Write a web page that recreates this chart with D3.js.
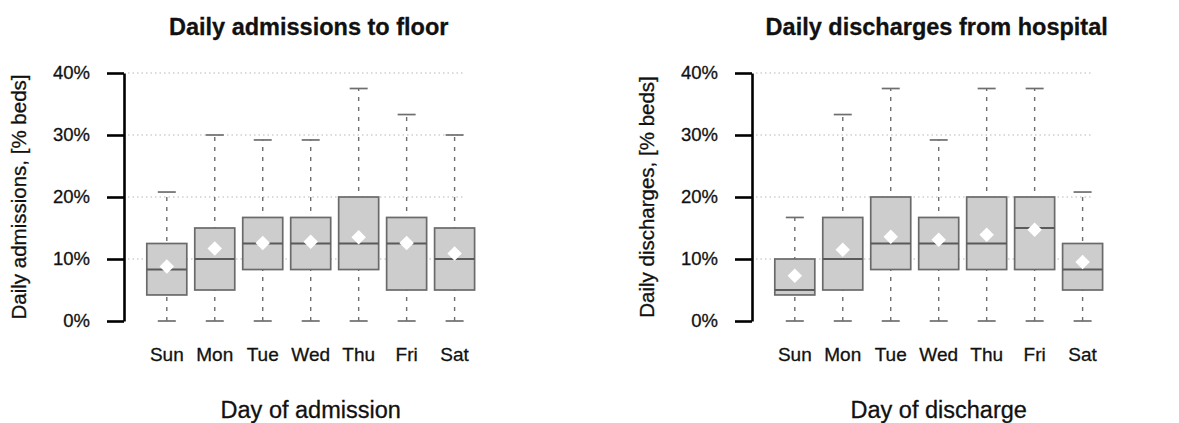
<!DOCTYPE html>
<html>
<head>
<meta charset="utf-8">
<script src="https://cdn.jsdelivr.net/npm/d3@7"></script>
<style>
  body { margin: 0; background: #fff; }
  svg { display: block; font-family: "Liberation Sans", Arial, Helvetica, sans-serif; }
  text { stroke: #111; stroke-width: 0.3px; }
</style>
</head>
<body>
<svg id="chart" width="1179" height="423"></svg>
<script>
// days of the week, shared by both panels
const days = ['Sun', 'Mon', 'Tue', 'Wed', 'Thu', 'Fri', 'Sat'];
const yTicks = [0, 0.1, 0.2, 0.3, 0.4];

// admissions to floor (fraction of beds)
const admMin = [0, 0, 0, 0, 0, 0, 0];
const admQ1 = [0.042, 0.05, 0.083, 0.083, 0.083, 0.05, 0.05];
const admMedian = [0.083, 0.10, 0.125, 0.125, 0.125, 0.125, 0.10];
const admQ3 = [0.125, 0.15, 0.167, 0.167, 0.20, 0.167, 0.15];
const admMax = [0.208, 0.30, 0.292, 0.292, 0.375, 0.333, 0.30];
const admMean = [0.088, 0.117, 0.126, 0.128, 0.135, 0.126, 0.109];

// discharges from hospital (fraction of beds)
const disMin = [0, 0, 0, 0, 0, 0, 0];
const disQ1 = [0.042, 0.05, 0.083, 0.083, 0.083, 0.083, 0.05];
const disMedian = [0.05, 0.10, 0.125, 0.125, 0.125, 0.15, 0.083];
const disQ3 = [0.10, 0.167, 0.20, 0.167, 0.20, 0.20, 0.125];
const disMax = [0.167, 0.333, 0.375, 0.292, 0.375, 0.375, 0.208];
const disMean = [0.073, 0.115, 0.136, 0.131, 0.139, 0.147, 0.095];

const svg = d3.select('#chart');

// shared vertical scale, both panels have the same plot height
const y = d3.scaleLinear().domain([0, 0.4]).range([321, 73]);

function rows(mins, q1s, meds, q3s, maxs, means) {
    return days.map((d, i) => ({
        day: d, min: mins[i], q1: q1s[i], med: meds[i], q3: q3s[i], max: maxs[i], mean: means[i]
    }));
}

function drawPanel(axisX, title, yLabel, xLabel, data) {
    const g = svg.append('g');

    const x = d3.scaleBand()
        .domain(days)
        .range([axisX + 14.5, axisX + 14.5 + 344.4])
        .padding(0.18);
    const cx = d => x(d) + x.bandwidth() / 2;
    const boxW = 40;
    const capW = 18;

    // dotted grid lines
    g.selectAll('.grid')
        .data(yTicks.filter(t => t > 0))
        .enter()
        .append('line')
        .attr('x1', axisX + 4)
        .attr('x2', axisX + 340)
        .attr('y1', d => y(d))
        .attr('y2', d => y(d))
        .attr('stroke', '#b8b8b8')
        .attr('stroke-width', 1.2)
        .attr('stroke-dasharray', '1.5,3');

    const box = g.selectAll('.box')
        .data(data)
        .enter()
        .append('g');

    // whiskers
    box.append('line')
        .attr('x1', d => cx(d.day))
        .attr('x2', d => cx(d.day))
        .attr('y1', d => y(d.min))
        .attr('y2', d => y(d.max))
        .attr('stroke', '#6e6e6e')
        .attr('stroke-width', 1.4)
        .attr('stroke-dasharray', '4,6');

    box.selectAll('.cap')
        .data(d => [d.min, d.max].map(v => ({ day: d.day, v: v })))
        .enter()
        .append('line')
        .attr('x1', d => cx(d.day) - capW / 2)
        .attr('x2', d => cx(d.day) + capW / 2)
        .attr('y1', d => y(d.v))
        .attr('y2', d => y(d.v))
        .attr('stroke', '#6e6e6e')
        .attr('stroke-width', 1.7);

    // boxes
    box.append('rect')
        .attr('x', d => cx(d.day) - boxW / 2)
        .attr('width', boxW)
        .attr('y', d => y(d.q3))
        .attr('height', d => y(d.q1) - y(d.q3))
        .attr('fill', '#cdcdcd')
        .attr('stroke', '#6a6a6a')
        .attr('stroke-width', 1.7);

    // medians
    box.append('line')
        .attr('x1', d => cx(d.day) - boxW / 2)
        .attr('x2', d => cx(d.day) + boxW / 2)
        .attr('y1', d => y(d.med))
        .attr('y2', d => y(d.med))
        .attr('stroke', '#5a5a5a')
        .attr('stroke-width', 2);

    // means as white diamonds
    box.append('path')
        .attr('d', d3.symbol(d3.symbolSquare, 105)())
        .attr('transform', d => `translate(${cx(d.day)},${y(d.mean)}) rotate(45)`)
        .attr('fill', '#fff');

    // y axis, bracket style
    const yAxis = d3.axisLeft(y)
        .tickValues(yTicks)
        .tickFormat(d3.format('.0%'))
        .tickSize(17)
        .tickSizeOuter(0)
        .tickPadding(17);

    const ya = g.append('g')
        .attr('transform', `translate(${axisX},0)`)
        .call(yAxis);
    ya.select('.domain').attr('stroke', '#000').attr('stroke-width', 2.6);
    ya.selectAll('.tick line').attr('stroke', '#000').attr('stroke-width', 2.6);
    ya.selectAll('.tick text')
        .attr('fill', '#111')
        .style('font-size', '18.5px')
        .style('font-family', '"Liberation Sans", Arial, sans-serif');

    // x category labels, no axis line
    const xa = g.append('g')
        .attr('transform', `translate(0,${y(0)})`)
        .call(d3.axisBottom(x).tickSize(0).tickPadding(27));
    xa.select('.domain').remove();
    xa.selectAll('.tick text')
        .attr('fill', '#111')
        .style('font-size', '19px')
        .style('font-family', '"Liberation Sans", Arial, sans-serif');

    const midX = axisX + 14.5 + 344.4 / 2;

    g.append('text')
        .attr('x', midX - 2)
        .attr('y', 35)
        .attr('text-anchor', 'middle')
        .attr('font-weight', 'bold')
        .attr('font-size', 23.5)
        .attr('fill', '#111')
        .text(title);

    g.append('text')
        .attr('x', midX)
        .attr('y', 418)
        .attr('text-anchor', 'middle')
        .attr('font-size', 23.5)
        .attr('fill', '#111')
        .text(xLabel);

    g.append('text')
        .attr('transform', `translate(${axisX - 98},${(y(0) + y(0.4)) / 2}) rotate(-90)`)
        .attr('text-anchor', 'middle')
        .attr('font-size', 20.5)
        .attr('fill', '#111')
        .text(yLabel);
}

drawPanel(124, 'Daily admissions to floor', 'Daily admissions, [% beds]', 'Day of admission',
    rows(admMin, admQ1, admMedian, admQ3, admMax, admMean));

drawPanel(752, 'Daily discharges from hospital', 'Daily discharges, [% beds]', 'Day of discharge',
    rows(disMin, disQ1, disMedian, disQ3, disMax, disMean));
</script>
</body>
</html>
